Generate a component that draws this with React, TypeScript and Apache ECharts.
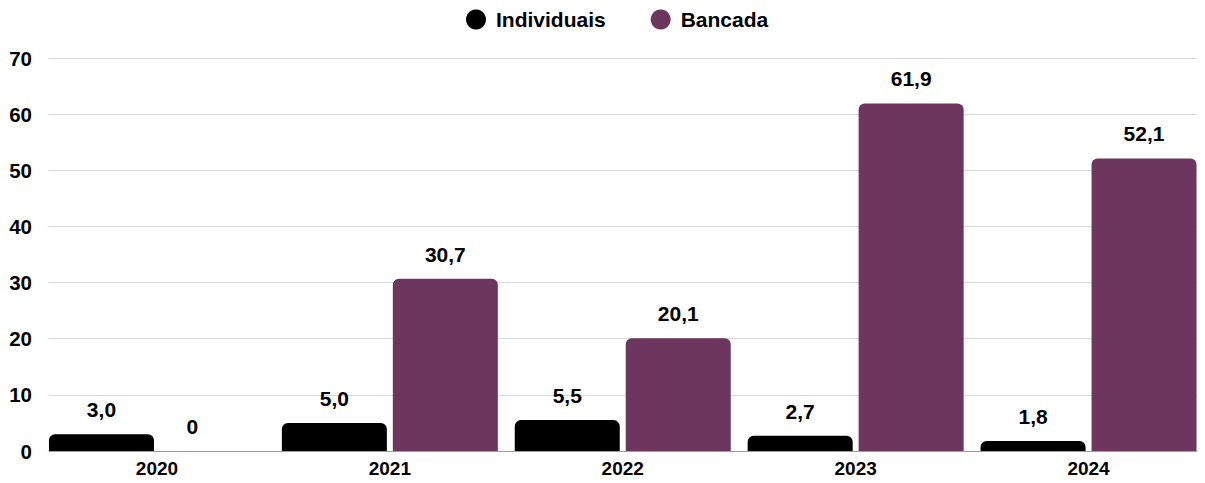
import React, { useEffect, useRef } from "react";
import * as echarts from "echarts";

const categories = ["2020", "2021", "2022", "2023", "2024"];
const individuais = [3.0, 5.0, 5.5, 2.7, 1.8];
const bancada = [0, 30.7, 20.1, 61.9, 52.1];
const yTicks = [0, 10, 20, 30, 40, 50, 60, 70];

const FONT = "Liberation Sans, Arial, sans-serif";
const PURPLE = "#6C365E";

export default function App() {
  const ref = useRef<HTMLDivElement>(null);
  useEffect(() => {
    const chart = echarts.init(ref.current!, null, { renderer: "svg" });
    const fmt = (p: any) => (p.value === 0 ? "0" : Number(p.value).toFixed(1).replace(".", ","));
    const labelStyle = {
      show: true,
      position: "top" as const,
      distance: 14,
      fontFamily: FONT,
      fontWeight: "bold" as const,
      fontSize: 21,
      color: "#000",
      formatter: fmt,
    };
    // zero-height bars get their label nudged left, as in the original
    const withZeroLabel = (arr: number[]) =>
      arr.map((v) => (v === 0 ? { value: v, label: { offset: [-20, 0] } } : v));
    chart.setOption({
      animation: false,
      textStyle: { fontFamily: FONT },
      legend: {
        top: 4,
        left: 461,
        icon: "circle",
        itemWidth: 20,
        itemHeight: 20,
        itemGap: 45,
        textStyle: {
          fontFamily: FONT,
          fontWeight: "bold",
          fontSize: 21,
          color: "#000",
          padding: [0, 0, 0, 5],
        },
        data: ["Individuais", "Bancada"],
      },
      grid: [
        { left: 49, right: 8, top: 58, bottom: 32 },
        { left: 40.5, right: -0.5, top: 58, bottom: 32 },
      ],
      xAxis: [
        {
          gridIndex: 0,
          type: "value",
          min: 0,
          max: 1,
          axisLabel: { show: false },
          axisTick: { show: false },
          splitLine: { show: false },
          axisLine: { show: true, onZero: false, lineStyle: { color: "#9e9e9e", width: 1 } },
        },
        {
          gridIndex: 1,
          type: "category",
          data: categories,
          axisLine: { show: false },
          axisTick: { show: false },
          axisLabel: {
            margin: 8,
            fontFamily: FONT,
            fontWeight: "bold",
            fontSize: 19,
            color: "#000",
          },
        },
      ],
      yAxis: [
        {
          gridIndex: 0,
          type: "value",
          min: yTicks[0],
          max: yTicks[yTicks.length - 1],
          interval: 10,
          axisLine: { show: false },
          axisTick: { show: false },
          axisLabel: {
            margin: 17,
            fontFamily: FONT,
            fontWeight: "bold",
            fontSize: 20.5,
            color: "#000",
          },
          splitLine: { show: true, lineStyle: { color: "#d9d9d9", width: 1 } },
        },
        {
          gridIndex: 1,
          type: "value",
          min: yTicks[0],
          max: yTicks[yTicks.length - 1],
          interval: 10,
          show: false,
          splitLine: { show: false },
        },
      ],
      series: [
        {
          name: "Individuais",
          type: "bar",
          xAxisIndex: 1,
          yAxisIndex: 1,
          data: withZeroLabel(individuais),
          barWidth: 105,
          barGap: "5.7%",
          itemStyle: { color: "#000", borderRadius: [6, 6, 0, 0] },
          label: labelStyle,
        },
        {
          name: "Bancada",
          type: "bar",
          xAxisIndex: 1,
          yAxisIndex: 1,
          data: withZeroLabel(bancada),
          barWidth: 105,
          itemStyle: { color: PURPLE, borderRadius: [6, 6, 0, 0] },
          label: labelStyle,
        },
      ],
    });
    return () => chart.dispose();
  }, []);
  return <div ref={ref} style={{ width: 1205, height: 483, position: "absolute", left: 0, top: 0 }} />;
}
